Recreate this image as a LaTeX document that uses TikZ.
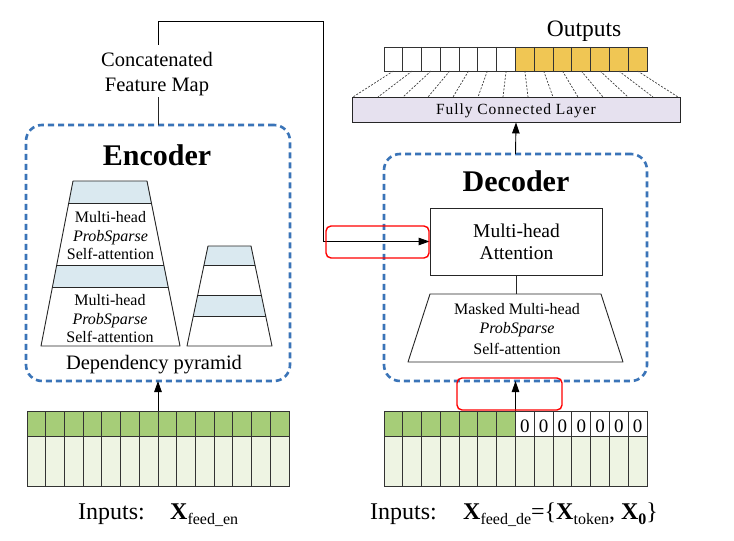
\documentclass[tikz,border=0pt]{standalone}
\usepackage{fontspec}
\setmainfont{Liberation Serif}
\usetikzlibrary{arrows.meta}
\definecolor{encblue}{HTML}{3A74B8}
\definecolor{bandblue}{HTML}{DAE9F0}
\definecolor{gdark}{HTML}{A6CD78}
\definecolor{glight}{HTML}{EEF4E3}
\definecolor{ygold}{HTML}{F0C654}
\definecolor{lav}{HTML}{E6E1EF}
\newcommand{\fsz}[2]{\fontsize{#1bp}{#2bp}\selectfont}
\newcommand{\subtx}[1]{\raisebox{-5bp}{\fsz{16}{16}#1}}
\begin{document}
\begin{tikzpicture}[x=1bp,y=-1bp,
  blk/.style={line width=0.9bp, draw=black!85},
  dashbox/.style={draw=encblue, line width=2.6bp, dash pattern=on 6bp off 4bp, rounded corners=16bp, inner sep=0pt, outer sep=0pt},
  arr/.style={-{Triangle[length=11bp,width=7.5bp]}, line width=0.9bp, draw=black},
  txt/.style={inner sep=0pt, anchor=base},
  redbox/.style={draw=red, line width=1.4bp, rounded corners=5bp, inner sep=0pt},
  cell/.style={draw=black!80, line width=0.9bp},
  fan/.style={draw=black!75, line width=0.7bp, dash pattern=on 2bp off 1.5bp}
]
\fill[white] (0,0) rectangle (734,541);
\useasboundingbox (0,0) rectangle (734,541);

% ---------- Encoder ----------
\node[dashbox, minimum width=264bp, minimum height=256bp] (enc) at (158,253) {};
\node[txt, font=\bfseries\fsz{30}{30}] (enctitle) at (157,166) {Encoder};

% big pyramid
\begin{scope}
\clip (73,181) -- (147,181) -- (180,346) -- (41,346) -- cycle;
\fill[bandblue] (30,181) rectangle (190,203);
\fill[bandblue] (30,265) rectangle (190,287);
\draw[blk] (30,203) -- (190,203) (30,265) -- (190,265) (30,287) -- (190,287);
\end{scope}
\draw[blk, line join=round] (73,181) -- (147,181) -- (180,346) -- (41,346) -- cycle;
\node[txt, font=\fsz{16}{16}] (e1a) at (110.5,223) {Multi-head};
\node[txt, font=\fsz{16}{16}\itshape] (e1b) at (110.5,242) {ProbSparse};
\node[txt, font=\fsz{16}{16}] (e1c) at (110.5,260) {Self-attention};
\node[txt, font=\fsz{16}{16}] (e2a) at (110,305) {Multi-head};
\node[txt, font=\fsz{16}{16}\itshape] (e2b) at (110,324) {ProbSparse};
\node[txt, font=\fsz{16}{16}] (e2c) at (110,342) {Self-attention};

% small pyramid
\begin{scope}
\clip (208,246) -- (251,246) -- (272,346) -- (187,346) -- cycle;
\fill[bandblue] (180,246) rectangle (280,265);
\fill[bandblue] (180,295) rectangle (280,316);
\draw[blk] (180,265) -- (280,265) (180,295) -- (280,295) (180,316) -- (280,316);
\end{scope}
\draw[blk, line join=round] (208,246) -- (251,246) -- (272,346) -- (187,346) -- cycle;

\node[txt, font=\fsz{20.5}{20.5}] (deppyr) at (154,369) {Dependency pyramid};

% concatenated feature map
\node[txt, font=\fsz{20.5}{20.5}] (cfm1) at (157,67) {Concatenated};
\node[txt, font=\fsz{20.5}{20.5}] (cfm2) at (157,92) {Feature Map};
\coordinate (cfmbot) at (158,97);
\coordinate (cfmtop) at (158,45);
\coordinate (bend) at (323,21);

% encoder inputs
\node[minimum width=262bp, minimum height=75bp, inner sep=0pt] (engrid) at (158,448.5) {};
\foreach \i in {0,...,13} {
  \fill[gdark] ({27+\i*18.714},411) rectangle ++(18.714,25);
  \fill[glight] ({27+\i*18.714},436) rectangle ++(18.714,50);
}
\draw[cell] (27,411) rectangle (289,486);
\draw[cell] (27,436) -- (289,436);
\foreach \i in {1,...,13} \draw[cell] ({27+\i*18.714},411) -- ++(0,75);
\node[txt, anchor=base west, font=\fsz{24}{24}] (enin) at (78,519) {Inputs:};
\node[txt, anchor=base west, font=\fsz{24}{24}] (enx) at (170,519) {\textbf{X}\subtx{feed\_en}};

% ---------- Decoder ----------
\node[dashbox, minimum width=263bp, minimum height=227bp] (dec) at (515.5,267.5) {};
\node[txt, font=\bfseries\fsz{30}{30}] (dectitle) at (516,192) {Decoder};

\node[blk, draw, minimum width=172bp, minimum height=67bp, inner sep=0pt] (mha) at (516,241.5) {};
\node[txt, font=\fsz{19.5}{19.5}] (mhaa) at (516.5,238) {Multi-head};
\node[txt, font=\fsz{19.5}{19.5}] (mhab) at (516.5,260) {Attention};

\draw[blk, line join=round] (430,294) -- (601,294) -- (623,362) -- (408,362) -- cycle;
\coordinate (mtop) at (516,294);
\node[txt, font=\fsz{16}{16}] (ma) at (517,314) {Masked Multi-head};
\node[txt, font=\fsz{16}{16}\itshape] (mb) at (517,333) {ProbSparse};
\node[txt, font=\fsz{16}{16}] (mc) at (517,354) {Self-attention};
\draw[blk] (mha.south) -- (mtop);

% decoder inputs
\node[minimum width=263bp, minimum height=75bp, inner sep=0pt] (decgrid) at (515.5,448.5) {};
\foreach \i in {0,...,6} {
  \fill[gdark] ({384+\i*18.786},411) rectangle ++(18.786,25);
}
\foreach \i in {0,...,13} {
  \fill[glight] ({384+\i*18.786},436) rectangle ++(18.786,50);
}
\draw[cell] (384,411) rectangle (647,486);
\draw[cell] (384,436) -- (647,436);
\foreach \i in {1,...,13} \draw[cell] ({384+\i*18.786},411) -- ++(0,75);
\foreach \i in {7,...,13} \node[txt, font=\fsz{19}{19}] (z\i) at ({384+(\i+0.5)*18.786},432) {0};
\node[txt, anchor=base west, font=\fsz{24}{24}] (dein) at (370,519) {Inputs:};
\node[txt, anchor=base west, font=\fsz{24}{24}] (dex) at (463,519)
  {\textbf{X}\subtx{feed\_de}=\{\textbf{X}\subtx{token}, \textbf{X}\subtx{\textbf{0}}\}};

% ---------- FC and outputs ----------
\node[blk, draw, fill=lav, minimum width=328bp, minimum height=25bp, inner sep=0pt] (fc) at (516,109.5) {};
\node[txt, font=\fsz{15.5}{15.5}\addfontfeature{LetterSpace=6}] (fctext) at (516,115) {Fully Connected Layer};

\node[minimum width=263bp, minimum height=24bp, inner sep=0pt] (outrow) at (515.5,59) {};
\foreach \i in {7,...,13} \fill[ygold] ({384+\i*18.786},47) rectangle ++(18.786,24);
\draw[cell] (384,47) rectangle (647,71);
\foreach \i in {1,...,13} \draw[cell] ({384+\i*18.786},47) -- ++(0,24);
\foreach \i in {0,...,13} \draw[fan] ({384+(\i+0.5)*18.786},71) -- ({353+\i*25},97);
\node[txt, font=\fsz{23.5}{23.5}] (outtext) at (584,37) {Outputs};

% ---------- connectors ----------
\draw[blk] (enc.north) -- (cfmbot);
\draw[arr] (cfmtop) |- (bend) |- (mha.west);
\draw[arr] (engrid.north) -- (enc.south);
\draw[arr] (decgrid.north) -- (dec.south);
\draw[arr] (dec.north) -- (fc.south);

% red highlights
\node[redbox, minimum width=103bp, minimum height=32bp] (red1) at (377.5,242) {};
\node[redbox, minimum width=105bp, minimum height=32bp] (red2) at (509.5,394) {};
\end{tikzpicture}
\end{document}
